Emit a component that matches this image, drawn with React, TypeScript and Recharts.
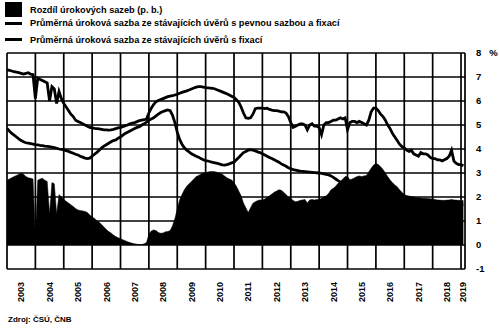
import React from "react";
import {
  ComposedChart,
  Area,
  Line,
  XAxis,
  YAxis,
  CartesianGrid,
  ReferenceLine
} from "recharts";

const years = [
  2003, 2004, 2005, 2006, 2007, 2008, 2009, 2010, 2011, 2012, 2013, 2014, 2015,
  2016, 2017, 2018, 2019
];

// monthly values, Jan 2003 .. Feb 2019 (one row per year)
const rateA = [
  7.3, 7.28, 7.25, 7.22, 7.2, 7.18, 7.15, 7.12, 7.15, 7.18, 7.12, 7.1,
  6.1, 6.95, 6.9, 6.85, 6.8, 6.75, 6.0, 6.6, 6.5, 5.9, 6.4, 6.1,
  5.9, 5.75, 5.6, 5.45, 5.35, 5.2, 5.15, 5.1, 5.05, 5.0, 4.95, 4.9,
  4.88, 4.86, 4.85, 4.84, 4.82, 4.8, 4.8, 4.79, 4.8, 4.82, 4.85, 4.88,
  4.9, 4.93, 4.97, 5.0, 5.05, 5.08, 5.1, 5.14, 5.18, 5.2, 5.22, 5.25,
  5.5, 5.7, 5.85, 5.97, 6.02, 6.06, 6.1, 6.14, 6.18, 6.2, 6.22, 6.25,
  6.28, 6.32, 6.36, 6.39, 6.42, 6.46, 6.5, 6.54, 6.58, 6.6, 6.6, 6.58,
  6.56, 6.55, 6.54, 6.53, 6.5, 6.46, 6.42, 6.38, 6.34, 6.3, 6.25, 6.2,
  6.15, 6.05, 5.95, 5.75, 5.5, 5.3, 5.28, 5.3, 5.45, 5.68, 5.7, 5.7,
  5.7, 5.68, 5.7, 5.65, 5.62, 5.6, 5.6, 5.58, 5.55, 5.55, 5.5, 5.35,
  5.1, 4.9, 4.95, 5.0, 5.05, 5.05, 5.0, 4.8, 5.0, 5.05, 4.95, 4.95,
  4.9, 4.6, 5.0, 5.1, 5.1, 5.15, 5.2, 5.2, 5.25, 5.3, 5.25, 5.3,
  4.8, 5.1, 5.15, 5.15, 5.1, 5.15, 5.1, 5.05, 5.0, 5.2, 5.55, 5.7,
  5.7, 5.6, 5.45, 5.35, 5.2, 5.0, 4.85, 4.65, 4.5, 4.35, 4.2, 4.1,
  4.05, 3.95, 3.9, 3.95, 3.8, 3.75, 3.7, 3.85, 3.8, 3.8, 3.75, 3.65,
  3.6, 3.6, 3.55, 3.55, 3.5, 3.55, 3.6, 3.7, 3.95, 3.5, 3.4, 3.35,
  3.35, 3.3
];

const rateB = [
  4.86, 4.75, 4.65, 4.58, 4.5, 4.42, 4.35, 4.3, 4.26, 4.24, 4.22, 4.2,
  4.18, 4.17, 4.15, 4.14, 4.12, 4.11, 4.1, 4.08, 4.06, 4.03, 4.0, 3.98,
  3.96, 3.93, 3.9, 3.86, 3.82, 3.78, 3.75, 3.7, 3.66, 3.62, 3.6, 3.62,
  3.7, 3.78, 3.86, 3.95, 4.05, 4.12, 4.18, 4.24, 4.3, 4.35, 4.38, 4.45,
  4.5, 4.58, 4.65, 4.7, 4.75, 4.8, 4.85, 4.9, 4.93, 5.0, 5.05, 5.12,
  5.2, 5.25, 5.3, 5.38, 5.45, 5.52, 5.56, 5.6, 5.63, 5.6, 5.4, 5.1,
  4.7, 4.4, 4.2, 4.05, 3.95, 3.88, 3.8, 3.75, 3.7, 3.66, 3.6, 3.55,
  3.52, 3.5, 3.47, 3.44, 3.42, 3.4, 3.37, 3.34, 3.33, 3.35, 3.38, 3.42,
  3.45, 3.55, 3.65, 3.75, 3.85, 3.9, 3.95, 3.97, 3.95, 3.92, 3.88, 3.85,
  3.8, 3.75, 3.7, 3.65, 3.6, 3.55, 3.5, 3.45, 3.38, 3.33, 3.28, 3.22,
  3.18, 3.14, 3.12, 3.1, 3.08, 3.07, 3.06, 3.05, 3.04, 3.03, 3.02, 3.01,
  3.0, 2.98, 2.96, 2.94, 2.92, 2.88, 2.82, 2.75, 2.68, 2.62, 2.58, 2.55,
  2.5, 2.48, 2.45, 2.42, 2.4, 2.38, 2.35, 2.32, 2.3, 2.28, 2.25, 2.22,
  2.2, 2.18, 2.15, 2.12, 2.1, 2.08, 2.05, 2.03, 2.0, 1.98, 1.96, 1.94,
  1.9, 1.88, 1.86, 1.84, 1.82, 1.8, 1.8, 1.78, 1.76, 1.75, 1.74, 1.72,
  1.7, 1.7, 1.68, 1.68, 1.66, 1.66, 1.66, 1.66, 1.68, 1.68, 1.68, 1.68,
  1.68, 1.68
];

const spread = [
  2.7, 2.75, 2.8, 2.85, 2.9, 2.95, 3.0, 2.95, 2.85, 2.8, 2.78, 2.75,
  0.3, 2.7, 2.75, 2.78, 2.7, 2.65, 1.3, 2.6, 2.55, 1.3, 2.1, 2.0,
  1.9, 1.82, 1.75, 1.68, 1.6, 1.52, 1.46, 1.44, 1.42, 1.4, 1.35, 1.25,
  1.18, 1.1, 1.02, 0.95, 0.85, 0.75, 0.65, 0.56, 0.5, 0.42, 0.35, 0.3,
  0.26, 0.22, 0.18, 0.14, 0.1, 0.07, 0.05, 0.03, 0.02, 0.02, 0.05, 0.1,
  0.45, 0.58, 0.63, 0.6, 0.52, 0.49, 0.5, 0.55, 0.56, 0.6, 0.8, 1.1,
  1.5, 1.88, 2.1, 2.3, 2.45, 2.55, 2.65, 2.75, 2.85, 2.9, 2.95, 3.0,
  3.02, 3.04, 3.06, 3.06, 3.05, 3.02, 3.0, 2.95, 2.88, 2.8, 2.75, 2.71,
  2.6, 2.45, 2.25, 2.05, 1.75, 1.55, 1.35, 1.55, 1.74, 1.8, 1.85, 1.88,
  1.88, 1.92, 1.98, 2.05, 2.12, 2.2, 2.25, 2.3, 2.28, 2.2, 2.1, 2.0,
  1.95, 1.85, 1.8, 1.82, 1.86, 1.88, 1.9, 1.75, 1.88, 1.9, 1.88, 1.9,
  1.9, 1.95, 2.0, 2.05, 2.15, 2.3, 2.36, 2.45, 2.57, 2.65, 2.75, 2.85,
  2.85, 2.72, 2.75, 2.8, 2.85, 2.88, 2.85, 2.88, 2.9, 3.05, 3.2, 3.33,
  3.4, 3.35, 3.26, 3.15, 3.0, 2.85, 2.71, 2.6, 2.5, 2.43, 2.3, 2.2,
  2.1, 2.06, 2.04, 2.02, 2.0, 1.98, 1.97, 1.96, 1.95, 1.95, 1.94, 1.93,
  1.92, 1.9, 1.88, 1.87, 1.86, 1.86, 1.87, 1.88, 1.9, 1.88, 1.87, 1.86,
  1.85, 1.85
];

const yTicks = [-1, 0, 1, 2, 3, 4, 5, 6, 7, 8];
const unit = "%";

const legendLabels = [
  "Rozdíl úrokových sazeb (p. b.)",
  "Průměrná úroková sazba ze stávajících úvěrů s pevnou sazbou a fixací",
  "Průměrná úroková sazba ze stávajících úvěrů s fixací"
];
const sourceText = "Zdroj: ČSÚ, ČNB";

const data = spread.map((s, i) => ({
  t: 2003 + i / 12,
  spread: s,
  rateA: rateA[i],
  rateB: rateB[i]
}));

const X_MAX = 2019.14;
const labelTicks = years.map((y) => (y < 2019 ? y + 0.5 : y + 0.07));
const FONT = "'Liberation Sans', Arial, sans-serif";

function YearTick({ x, y, payload }: any) {
  return (
    <text
      transform={`translate(${x},${y}) rotate(-90)`}
      x={-5}
      y={0}
      dy="0.36em"
      textAnchor="end"
      fontFamily={FONT}
      fontWeight="bold"
      fontSize={9}
      fill="#000"
    >
      {Math.floor(payload.value)}
    </text>
  );
}

function ValueTick({ x, y, payload }: any) {
  return (
    <text
      x={x + 3}
      y={y}
      dy="0.35em"
      textAnchor="start"
      fontFamily={FONT}
      fontWeight="bold"
      fontSize={9.5}
      fill="#000"
    >
      {payload.value}
      {payload.value === 8 ? <tspan dx={8}>{unit}</tspan> : null}
    </text>
  );
}

export default function App() {
  const textStyle: React.CSSProperties = {
    position: "absolute",
    left: 30,
    fontFamily: FONT,
    fontWeight: "bold",
    fontSize: 9.2,
    lineHeight: "10px",
    whiteSpace: "nowrap",
    color: "#000"
  };
  return (
    <div
      style={{
        position: "absolute",
        left: 0,
        top: 0,
        width: 499,
        height: 332,
        background: "#fff"
      }}
    >
      <div style={{ position: "absolute", left: 5, top: 2, width: 17, height: 15, background: "#000" }} />
      <div style={{ ...textStyle, top: 5 }}>{legendLabels[0]}</div>
      <div style={{ position: "absolute", left: 5, top: 22, width: 17, height: 3, background: "#000" }} />
      <div style={{ ...textStyle, top: 18 }}>{legendLabels[1]}</div>
      <div style={{ position: "absolute", left: 5, top: 38, width: 17, height: 3, background: "#000" }} />
      <div style={{ ...textStyle, top: 35 }}>{legendLabels[2]}</div>

      <ComposedChart
        width={499}
        height={310}
        data={data}
        margin={{ top: 53, right: 0, bottom: 0, left: 7 }}
      >
        <CartesianGrid vertical={false} stroke="#000" strokeWidth={1.7} />
        <XAxis
          dataKey="t"
          type="number"
          domain={[2003, X_MAX]}
          allowDataOverflow
          ticks={labelTicks}
          interval={0}
          tick={<YearTick />}
          tickLine={false}
          axisLine={false}
          height={41}
        />
        <YAxis
          orientation="right"
          domain={[-1, 8]}
          ticks={yTicks}
          interval={0}
          tick={<ValueTick />}
          tickLine={false}
          axisLine={false}
          width={34}
        />
        <Area
          dataKey="spread"
          type="linear"
          baseValue={0}
          fill="#000"
          fillOpacity={1}
          stroke="#000"
          strokeWidth={0.5}
          isAnimationActive={false}
        />
        {years.map((y) => (
          <ReferenceLine key={y} x={y} stroke="#000" strokeWidth={1.7} />
        ))}
        <ReferenceLine x={X_MAX} stroke="#000" strokeWidth={1.7} />
        <Line
          dataKey="rateB"
          type="linear"
          stroke="#000"
          strokeWidth={2.8}
          dot={false}
          isAnimationActive={false}
        />
        <Line
          dataKey="rateA"
          type="linear"
          stroke="#000"
          strokeWidth={2.8}
          dot={false}
          isAnimationActive={false}
        />
      </ComposedChart>

      <div
        style={{
          position: "absolute",
          left: 8,
          top: 315,
          fontFamily: FONT,
          fontWeight: "bold",
          fontSize: 8,
          whiteSpace: "nowrap",
          color: "#000"
        }}
      >
        {sourceText}
      </div>
    </div>
  );
}
